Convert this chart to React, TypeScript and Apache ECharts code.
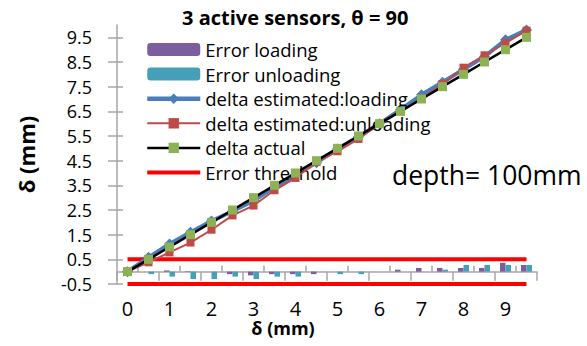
import React, { useEffect, useRef } from "react";
import * as echarts from "echarts";

const categories = ["0","0.5","1","1.5","2","2.5","3","3.5","4","4.5","5","5.5","6","6.5","7","7.5","8","8.5","9","9.5"];
const deltaActual = [0,0.5,1,1.5,2,2.5,3,3.5,4,4.5,5,5.5,6,6.5,7,7.5,8,8.5,9,9.5];
const deltaLoading = [0,0.58,1.12,1.6,2.05,2.45,2.88,3.42,3.92,4.42,4.97,5.47,6.0,6.57,7.17,7.68,8.2,8.72,9.4,9.8];
const deltaUnloading = [0,0.38,0.78,1.18,1.7,2.28,2.68,3.3,3.8,4.45,4.88,5.38,6.0,6.5,7.02,7.6,8.27,8.77,9.27,9.77];
const errorLoading = [0,0,0.05,0.02,0,-0.1,-0.15,-0.1,-0.1,-0.1,0,0,0,0.08,0.15,0.15,0.15,0.15,0.36,0.27];
const errorUnloading = [0,-0.1,-0.2,-0.3,-0.3,-0.2,-0.3,-0.2,-0.2,0,-0.1,-0.1,0,0,0,0.08,0.27,0.27,0.27,0.27];
const thresholdUpper = [0.5,0.5,0.5,0.5,0.5,0.5,0.5,0.5,0.5,0.5,0.5,0.5,0.5,0.5,0.5,0.5,0.5,0.5,0.5,0.5];
const thresholdLower = [-0.5,-0.5,-0.5,-0.5,-0.5,-0.5,-0.5,-0.5,-0.5,-0.5,-0.5,-0.5,-0.5,-0.5,-0.5,-0.5,-0.5,-0.5,-0.5,-0.5];
const yTickValues = [-0.5,0.5,1.5,2.5,3.5,4.5,5.5,6.5,7.5,8.5,9.5];
const xUpTicks = [1,3,5,7,9,11,13,15,17,19];

const FONT = "'Open Sans', sans-serif";
const AXIS_COLOR = "#A6A6A6";

export default function App() {
  const ref = useRef<HTMLDivElement>(null);
  useEffect(() => {
    if (!ref.current) return;
    const chart = echarts.init(ref.current, null, { renderer: "svg" });
    chart.setOption({
      animation: false,
      backgroundColor: "#ffffff",
      textStyle: { fontFamily: FONT },
      title: {
        text: "3 active sensors, θ = 90",
        left: 177,
        top: 2,
        textStyle: { fontFamily: FONT, fontSize: 20, fontWeight: "bold", color: "#000" },
      },
      legend: {
        orient: "vertical",
        left: 140,
        top: 35,
        itemWidth: 53,
        itemHeight: 13,
        itemGap: 5.6,
        textStyle: { fontFamily: FONT, fontSize: 18.5, color: "#000", lineHeight: 19 },
        data: [
          { name: "Error loading" },
          { name: "Error unloading" },
          { name: "delta estimated:loading", lineStyle: { width: 4.5 } },
          { name: "delta estimated:unloading", lineStyle: { width: 2 } },
          { name: "delta actual", lineStyle: { width: 2.5 } },
          { name: "Error threshold", icon: "path://M0,0 L53,0 L53,4 L0,4 Z" },
        ],
      },
      graphic: [
        {
          type: "text",
          left: 392,
          top: 161,
          style: { text: "depth= 100mm", fontFamily: FONT, fontSize: 26.5, fill: "#000" },
        },
        {
          type: "text",
          x: 283,
          y: 328,
          style: {
            text: "δ (mm)",
            fontFamily: FONT,
            fontSize: 18,
            fontWeight: "bold",
            fill: "#000",
            align: "center",
            verticalAlign: "middle",
          },
        },
      ],
      grid: { left: 117, right: 50, top: 25, bottom: 62, containLabel: false, outerBoundsMode: "none" },
      xAxis: [
        {
          type: "category",
          data: categories,
          boundaryGap: true,
          position: "bottom",
          axisLine: { onZero: true, onZeroAxisIndex: 0, lineStyle: { color: AXIS_COLOR, width: 1.5 } },
          axisTick: { show: true, interval: 1, inside: false, length: 9, lineStyle: { color: AXIS_COLOR, width: 1.5 } },
          axisLabel: { interval: 1, margin: 14, fontFamily: FONT, fontSize: 20, lineHeight: 20, color: "#000" },
          splitLine: { show: false },
        },
        {
          type: "value",
          min: 0,
          max: 20,
          position: "bottom",
          axisLine: { show: false, onZero: true, onZeroAxisIndex: 0 },
          axisTick: { show: true, inside: true, length: 6, customValues: xUpTicks, lineStyle: { color: AXIS_COLOR, width: 1.5 } },
          axisLabel: { show: false },
          splitLine: { show: false },
        },
      ],
      yAxis: [
        {
          type: "value",
          min: -0.5,
          max: 10,
          position: "left",
          axisLine: { show: true, onZero: false, lineStyle: { color: AXIS_COLOR, width: 1.5 } },
          axisTick: { show: true, inside: false, length: 9, customValues: yTickValues, lineStyle: { color: AXIS_COLOR, width: 1.5 } },
          axisLabel: { customValues: yTickValues, margin: 25, fontFamily: FONT, fontSize: 18, lineHeight: 18, color: "#000", formatter: (v: number) => String(v) },
          splitLine: { show: false },
          name: "δ (mm)",
          nameLocation: "middle",
          nameGap: 80,
          nameTextStyle: { fontFamily: FONT, fontSize: 22, fontWeight: "bold", color: "#000" },
        },
        {
          type: "value",
          min: -0.5,
          max: 10,
          position: "left",
          axisLine: { show: false, onZero: false },
          axisTick: { show: true, inside: true, length: 6, customValues: yTickValues, lineStyle: { color: AXIS_COLOR, width: 1.5 } },
          axisLabel: { show: false },
          splitLine: { show: false },
        },
      ],
      series: [
        {
          name: "Error threshold",
          type: "line",
          data: thresholdUpper,
          symbol: "none",
          lineStyle: { color: "#FF0000", width: 4 },
          itemStyle: { color: "#FF0000" },
          z: 1,
        },
        {
          name: "Error threshold",
          type: "line",
          data: thresholdLower,
          symbol: "none",
          lineStyle: { color: "#FF0000", width: 4 },
          itemStyle: { color: "#FF0000" },
          z: 1,
        },
        {
          name: "Error loading",
          type: "bar",
          data: errorLoading,
          itemStyle: { color: "#7A5E9E" },
          barWidth: 5.5,
          barGap: "0%",
          z: 2,
        },
        {
          name: "Error unloading",
          type: "bar",
          data: errorUnloading,
          itemStyle: { color: "#459FB8" },
          barWidth: 5.5,
          barGap: "0%",
          z: 2,
        },
        {
          name: "delta estimated:loading",
          type: "line",
          data: deltaLoading,
          symbol: "diamond",
          symbolSize: 11,
          lineStyle: { color: "#4A7EBB", width: 4 },
          itemStyle: { color: "#4A7EBB" },
          z: 3,
        },
        {
          name: "delta estimated:unloading",
          type: "line",
          data: deltaUnloading,
          symbol: "rect",
          symbolSize: 8,
          lineStyle: { color: "#BE4B48", width: 2 },
          itemStyle: { color: "#BE4B48" },
          z: 4,
        },
        {
          name: "delta actual",
          type: "line",
          data: deltaActual,
          symbol: "rect",
          symbolSize: 9,
          lineStyle: { color: "#000000", width: 2.5 },
          itemStyle: { color: "#8DB255" },
          z: 5,
        },
      ],
    });
    return () => chart.dispose();
  }, []);
  return (
    <div
      ref={ref}
      style={{ position: "fixed", left: 0, top: 0, width: 587, height: 346, background: "#fff" }}
    />
  );
}
